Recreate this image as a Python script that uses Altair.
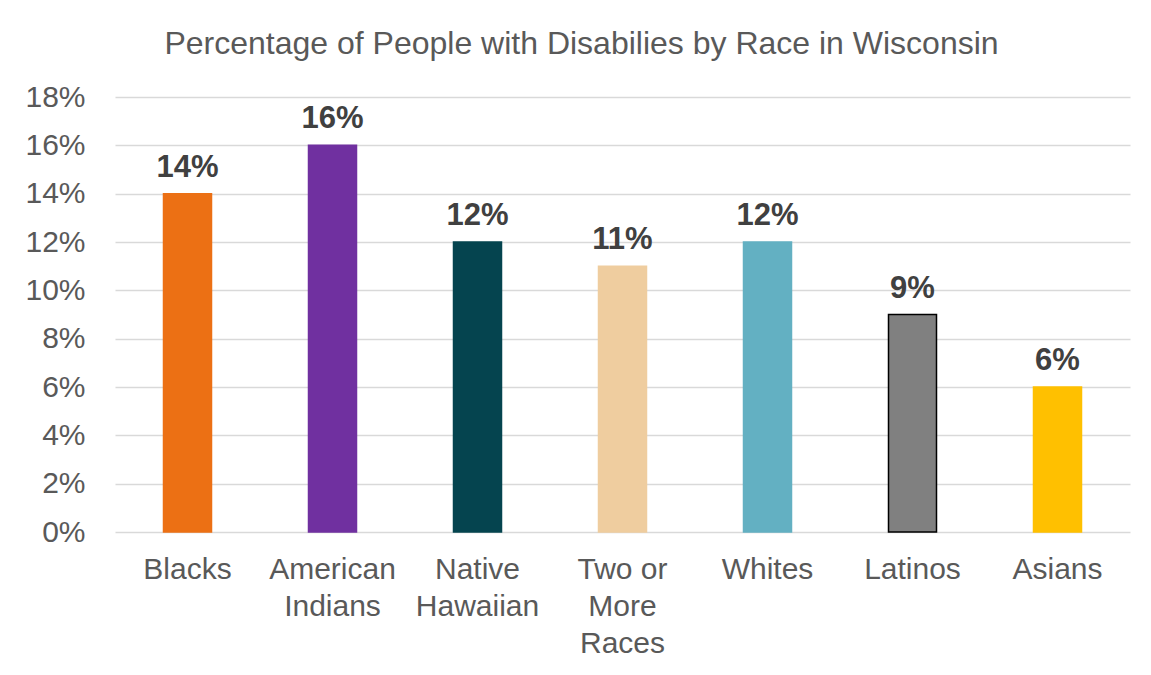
import altair as alt
import pandas as pd

categories = ["Blacks", "American Indians", "Native Hawaiian", "Two or More Races", "Whites", "Latinos", "Asians"]
label_lines = ["Blacks", "American|Indians", "Native|Hawaiian", "Two or|More|Races", "Whites", "Latinos", "Asians"]
values = [14, 16, 12, 11, 12, 9, 6]
colors = ["#EC7014", "#7030A0", "#05444F", "#EFCD9F", "#63B0C2", "#808080", "#FFC000"]
strokes = ["#EC7014", "#7030A0", "#05444F", "#EFCD9F", "#63B0C2", "#000000", "#FFC000"]
y_ticks = [0, 2, 4, 6, 8, 10, 12, 14, 16, 18]

df = pd.DataFrame({
    "cat": label_lines,
    "value": values,
    "color": colors,
    "stroke": strokes,
    "label": [f"{v}%" for v in values],
})

FONT = "Liberation Sans"

x = alt.X("cat:N", sort=label_lines, title=None,
          scale=alt.Scale(paddingInner=0, paddingOuter=0),
          axis=alt.Axis(labelExpr="split(datum.label, '|')", labelAngle=0,
                        labelFontSize=30, labelFont=FONT, labelColor="#595959",
                        labelLineHeight=37, labelPadding=22, ticks=False, domain=False,
                        grid=False, labelBaseline="top", labelLimit=300))

y = alt.Y("value:Q", title=None,
          scale=alt.Scale(domain=[0, 18], nice=False),
          axis=alt.Axis(values=y_ticks, labelExpr="datum.value + '%'",
                        labelFontSize=30, labelFont=FONT, labelColor="#595959",
                        labelPadding=30, ticks=False, domain=False,
                        gridColor="#D9D9D9", gridWidth=1.5))

bars = alt.Chart(df).mark_bar(size=48, strokeWidth=1.5).encode(
    x=x, y=y,
    color=alt.Color("color:N", scale=None),
    stroke=alt.Stroke("stroke:N", scale=None),
)

labels = alt.Chart(df).mark_text(
    font=FONT, fontSize=31, fontWeight="bold", color="#404040",
    baseline="alphabetic", dy=-17
).encode(x=x, y=y, text="label:N")

chart = alt.layer(bars, labels).properties(
    width=1015, height=435,
    background="white",
    title=alt.TitleParams(
        "Percentage of People with Disabilies by Race in Wisconsin",
        font=FONT, fontSize=32, fontWeight="normal", color="#595959",
        anchor="middle", dx=-41, dy=4, offset=0, baseline="alphabetic",
    ),
    autosize=alt.AutoSizeParams(type="none"),
    padding={"left": 107, "top": 89, "right": 13, "bottom": 135},
).configure_view(stroke="transparent", strokeWidth=0)

chart.save("out.html", embed_options={"renderer": "svg", "actions": False})
